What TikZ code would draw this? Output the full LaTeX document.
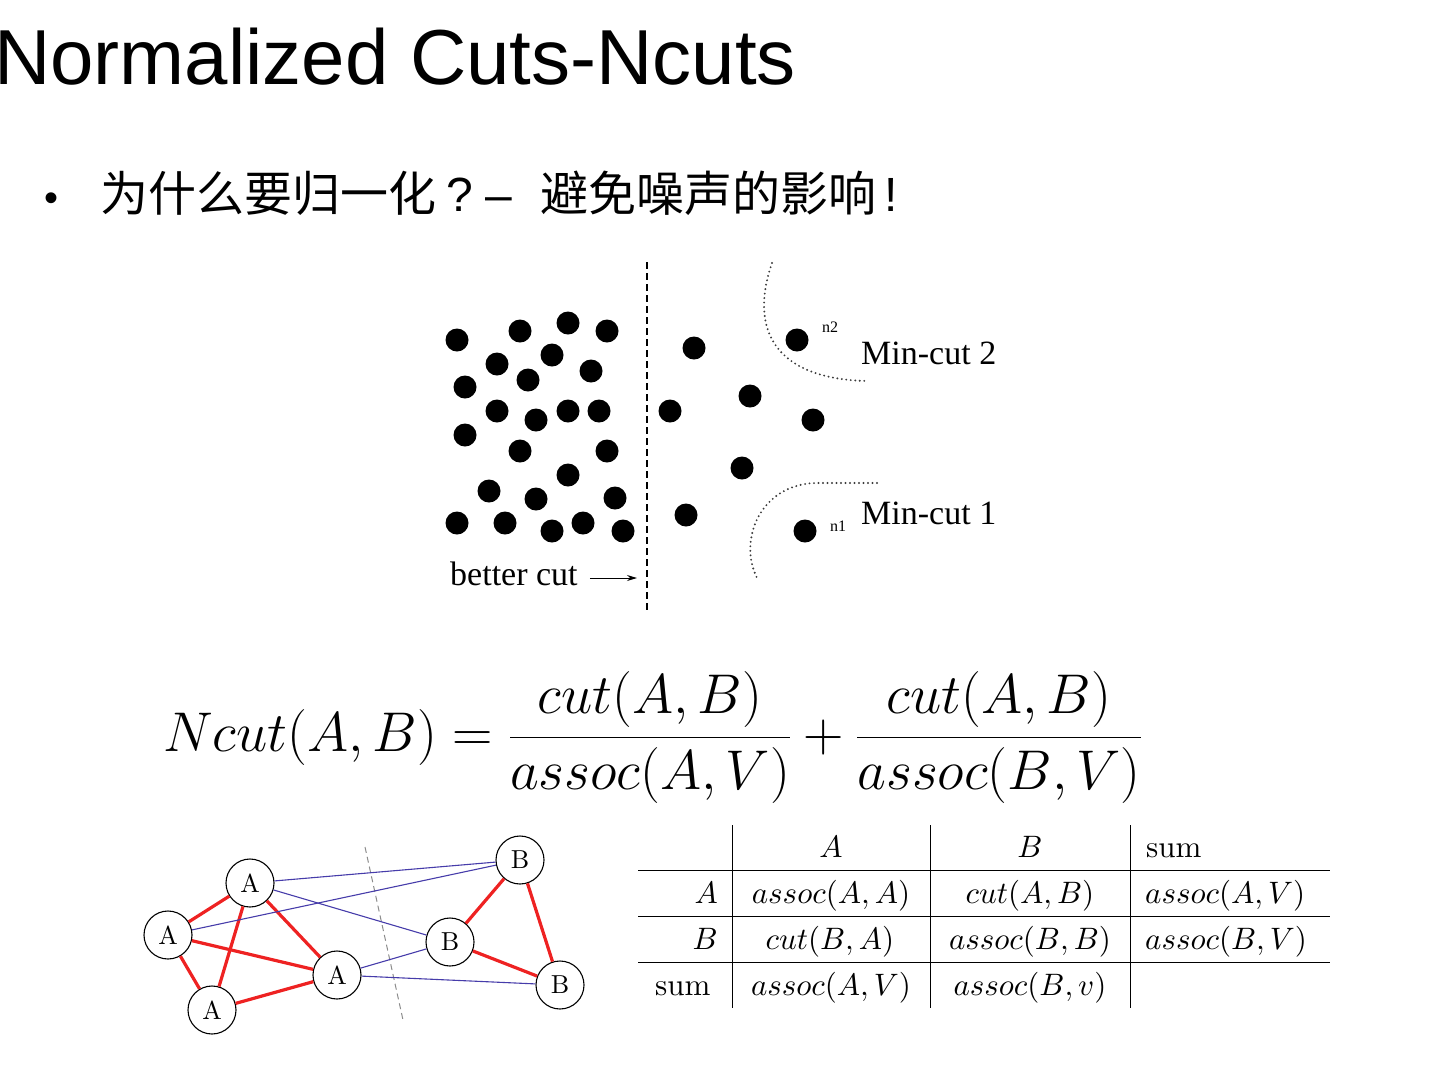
\RequirePackage{fix-cm}
\documentclass[tikz,border=0pt]{standalone}
\usepackage{fontspec}
\usetikzlibrary{arrows.meta}
\newfontfamily\arialf{Liberation Sans}
\newfontfamily\timesf{Liberation Serif}
\newfontfamily\cjkf{Noto Sans CJK SC}
\definecolor{edgered}{RGB}{238,34,34}
\definecolor{edgeblue}{RGB}{70,60,170}
\definecolor{cutgray}{RGB}{140,140,140}
\definecolor{dotgray}{RGB}{60,60,60}
\newcommand{\tsc}[1]{\scalebox{3.1}{#1}}
\newcommand{\gsc}[1]{\scalebox{2.6}{#1}}
\begin{document}
\begin{tikzpicture}[x=1pt,y=-1pt,
  gnode/.style={circle,draw,line width=1.1pt,minimum size=48pt,inner sep=0pt,font=\fontsize{10}{12}\selectfont},
  redge/.style={draw=edgered,line width=3.2pt},
  bedge/.style={draw=edgeblue,line width=1.1pt},
  tcell/.style={inner sep=0pt,font=\fontsize{10}{12}\selectfont},
  lbl/.style={inner sep=0pt,font=\timesf\fontsize{34}{34}\selectfont},
  small/.style={inner sep=0pt,font=\timesf\fontsize{16}{16}\selectfont},
  bul/.style={inner sep=0pt,font=\fontsize{48}{48}\selectfont},
  tline/.style={line width=1pt},
  dotline/.style={draw=dotgray,line width=2.1pt,line cap=round,dash pattern=on 0pt off 4.5pt},
]
\useasboundingbox (0,0) rectangle (1440,1080);

% title
\node[inner sep=0pt,anchor=base west,font=\arialf\fontsize{78}{80}\selectfont] (title) at (-6,84) {Normalized Cuts-Ncuts};

% bullet line
\node[inner sep=0pt,anchor=base west,font=\arialf\fontsize{40}{40}\selectfont] (bullet) at (44,211) {•};
\node[bul,anchor=base west,font=\cjkf\fontsize{48}{48}\selectfont] (q1) at (100,211) {为什么要归一化};
\node[bul,anchor=base west,font=\arialf\fontsize{48}{48}\selectfont] (qm) at (446,211) {?};
\node[bul,anchor=base west,font=\arialf\fontsize{48}{48}\selectfont] (dash) at (485,211) {–};
\node[bul,anchor=base west,font=\cjkf\fontsize{48}{48}\selectfont] (q2) at (540,211) {避免噪声的影响};
\node[bul,anchor=base west,font=\arialf\fontsize{48}{48}\selectfont] (ex) at (884,211) {!};

% dot figure
\foreach \p in {(457,340),(520,331),(568,323),(607,331),(497,364),(552,355),(591,371),
  (465,387),(528,380),(497,411),(536,420),(568,411),(599,411),(465,435),(520,451),
  (607,451),(568,475),(489,491),(536,499),(615,498),(457,523),(505,523),(552,531),
  (583,523),(623,531),(694,348),(670,411),(686,515),(797,340),(750,396),(813,420),
  (742,468),(805,531)}
  \fill \p circle (11.5);
\coordinate (cuttop) at (647,262);
\coordinate (cutbot) at (647,610);
\draw[line width=1.8pt,dash pattern=on 7pt off 4pt] (cuttop) -- (cutbot);
\draw[dotline] (772,263) .. controls (752,320) and (765,378) .. (866,381);
\draw[dotline] (877,483) -- (815,483) .. controls (760,485) and (738,540) .. (757,578);
\node[lbl,anchor=base west] (mc2) at (861,364) {Min-cut 2};
\node[lbl,anchor=base west] (mc1) at (861,524) {Min-cut 1};
\node[small] (n2) at (830,327) {n2};
\node[small] (n1) at (838,526) {n1};
\node[lbl,anchor=base west] (better) at (450,585) {better cut};
\coordinate (arrend) at (637,578);
\draw[line width=1pt,-{Stealth[length=10pt,width=6pt]}] (better.east |- arrend) ++(12,0) -- (arrend);

% formula
\node[inner sep=0pt,anchor=base west,font=\fontsize{56}{60}\selectfont] (ncut) at (163,751)
  {$\displaystyle Ncut(A,B)=\frac{cut(A,B)}{assoc(A,V)}+\frac{cut(A,B)}{assoc(B,V)}$};

% graph
\coordinate (gc1) at (365,847);
\coordinate (gc2) at (403,1020);
\draw[cutgray,line width=1pt,dash pattern=on 6pt off 4pt] (gc1) -- (gc2);
\node[gnode] (a1) at (250,883) {\gsc{A}};
\node[gnode] (a2) at (168,935) {\gsc{A}};
\node[gnode] (a3) at (212,1010) {\gsc{A}};
\node[gnode] (a4) at (337,975) {\gsc{A}};
\node[gnode] (b1) at (520,860) {\gsc{B}};
\node[gnode] (b2) at (450,942) {\gsc{B}};
\node[gnode] (b3) at (560,985) {\gsc{B}};
\foreach \u/\v in {a2/a1,a1/a3,a1/a4,a2/a4,a2/a3,a3/a4,b1/b2,b1/b3,b2/b3}
  \draw[redge] (\u) -- (\v);
\foreach \u/\v in {a1/b1,a1/b2,a2/b1,a4/b2,a4/b3}
  \draw[bedge] (\u) -- (\v);

% table
\foreach \yy in {870,916,962} \draw[tline] (638,\yy) -- (1330,\yy);
\foreach \xx in {732,930,1130} \draw[tline] (\xx,825) -- (\xx,1008);
\node[tcell,anchor=base] (hA) at (831,857) {\tsc{$A$}};
\node[tcell,anchor=base] (hB) at (1030,857) {\tsc{$B$}};
\node[tcell,anchor=base west] (hS) at (1146,857) {\tsc{sum}};
\node[tcell,anchor=base east] (rA) at (718,903) {\tsc{$A$}};
\node[tcell,anchor=base] (c11) at (831,903) {\tsc{$assoc(A,A)$}};
\node[tcell,anchor=base] (c12) at (1030,903) {\tsc{$cut(A,B)$}};
\node[tcell,anchor=base west] (c13) at (1145,903) {\tsc{$assoc(A,V)$}};
\node[tcell,anchor=base east] (rB) at (718,949) {\tsc{$B$}};
\node[tcell,anchor=base] (c21) at (830,949) {\tsc{$cut(B,A)$}};
\node[tcell,anchor=base] (c22) at (1030,949) {\tsc{$assoc(B,B)$}};
\node[tcell,anchor=base west] (c23) at (1145,949) {\tsc{$assoc(B,V)$}};
\node[tcell,anchor=base west] (rS) at (655,995) {\tsc{sum}};
\node[tcell,anchor=base] (c31) at (831,995) {\tsc{$assoc(A,V)$}};
\node[tcell,anchor=base] (c32) at (1030,995) {\tsc{$assoc(B,v)$}};
\end{tikzpicture}
\end{document}
